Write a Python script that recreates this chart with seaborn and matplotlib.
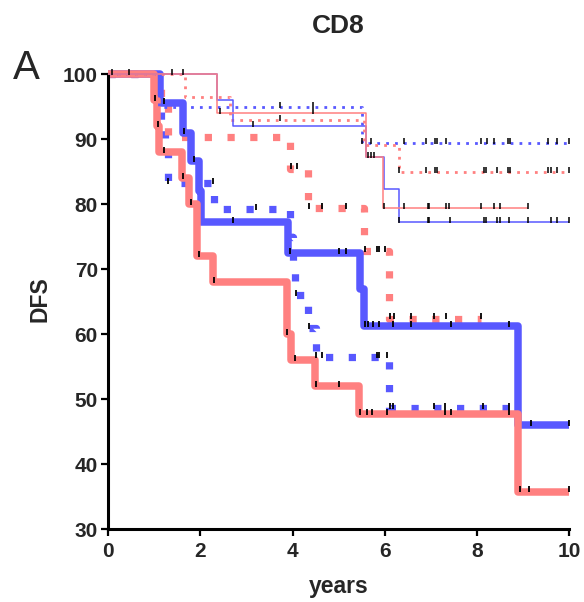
import numpy as np
import pandas as pd
import matplotlib
matplotlib.use("Agg")
import matplotlib.pyplot as plt
import seaborn as sns

# ---------------- data (years, DFS %) ----------------
thick_red_t = [0, 1.0, 1.05, 1.1, 1.6, 1.75, 1.93, 2.27, 3.87, 3.97, 4.48, 5.45, 8.9, 10.0]
thick_red_s = [100, 96, 92, 88, 84, 80, 72, 68, 60, 56, 52, 47.7, 35.8, 35.8]
thick_red_cens = [1.02, 1.07, 1.2, 1.62, 1.8, 1.96, 2.3, 3.88, 4.05, 4.5, 5.0,
                  5.47, 5.62, 5.73, 6.06, 7.3, 7.43, 8.7, 8.93, 9.13, 10.0]

thick_blue_t = [0, 1.12, 1.62, 1.8, 1.97, 2.02, 3.9, 5.47, 5.55, 8.9, 10.0]
thick_blue_s = [100, 95.6, 91, 86.6, 82, 77.2, 72.5, 67, 61.3, 46, 46]
thick_blue_cens = [1.2, 1.65, 1.85, 2.7, 3.95, 5.0, 5.16, 5.57, 5.64, 5.75,
                   5.88, 6.18, 6.57, 7.43, 8.7, 9.17, 10.0]

thick_blue_dot_t = [0, 1.05, 1.15, 1.22, 1.3, 2.3, 3.95, 4.0, 4.05, 4.33, 4.5, 6.09, 8.7]
thick_blue_dot_s = [100, 96, 92, 88, 83.3, 79.2, 75, 70.8, 66, 61, 56.5, 48.6, 48.6]
thick_blue_dot_cens = [1.3, 2.27, 3.2, 4.07, 4.35, 4.5, 4.64, 5.83, 5.88, 6.05,
                       6.11, 6.18, 7.07, 7.3, 8.13, 8.7]

thick_red_dot_t = [0, 1.15, 1.3, 3.95, 4.33, 5.55, 6.09, 8.1]
thick_red_dot_s = [100, 95.2, 90.4, 85.5, 79.4, 72.8, 62.4, 62.4]
thick_red_dot_cens = [3.96, 4.09, 4.35, 4.64, 5.16, 5.57, 5.83, 5.88, 6.0,
                      6.11, 6.2, 6.57, 7.07, 7.33, 8.1]

thin_blue_t = [0, 2.35, 2.7, 5.6, 5.98, 6.3, 10.0]
thin_blue_s = [100, 96, 92, 87.3, 82.3, 77.2, 77.2]
thin_blue_cens = [0.08, 0.45, 1.38, 1.62, 3.14, 5.63, 5.71, 6.3, 6.94, 6.96,
                  7.41, 8.15, 8.19, 8.43, 8.5, 8.69, 9.1, 9.6, 9.73, 10.0]

thin_red_t = [0, 2.35, 5.6, 5.97, 9.1]
thin_red_s = [100, 94, 87.3, 79.4, 79.4]
thin_red_cens = [2.42, 4.44, 5.76, 5.98, 6.42, 6.94, 6.96, 7.33, 7.39,
                 8.1, 8.37, 8.51, 9.1]

thin_blue_dot_t = [0, 1.1, 5.5, 10.0]
thin_blue_dot_s = [100, 95, 89.4, 89.4]
thin_blue_dot_cens = [3.72, 4.44, 5.5, 5.71, 6.42, 6.89, 7.09, 7.14, 7.33,
                      8.1, 8.21, 8.37, 8.68, 8.73, 9.54, 9.73, 10.0]

thin_red_dot_t = [0, 1.67, 2.64, 5.55, 6.3, 10.0]
thin_red_dot_s = [100, 96.5, 93.0, 89.1, 84.9, 84.9]
thin_red_dot_cens = [3.72, 6.31, 6.89, 7.09, 7.13, 8.15, 8.19, 8.43, 8.67,
                     8.71, 9.54, 9.6, 9.73, 10.0]

x_ticks = [0, 2, 4, 6, 8, 10]
y_ticks = [30, 40, 50, 60, 70, 80, 90, 100]
title = "CD8"
xlabel = "years"
ylabel = "DFS"
panel = "A"

BLUE = "#5858FF"
RED = "#FF8080"

# ---------------- style ----------------
sns.set_style("ticks")
plt.rcParams["font.family"] = ["Liberation Sans", "DejaVu Sans"]

fig = plt.figure(figsize=(5.84, 6.02), dpi=100)
ax = fig.add_axes([108.3 / 584, (602 - 529.3) / 602, 460.7 / 584, 455 / 602])

curves = [
    # (t, s, cens, color, lw, linestyle, tick lw, tick size)
    (thick_blue_dot_t, thick_blue_dot_s, thick_blue_dot_cens, BLUE, 5.2, (0, (1, 2.15)), 1.3, 24),
    (thick_red_dot_t, thick_red_dot_s, thick_red_dot_cens, RED, 5.2, (0, (1, 2.15)), 1.3, 24),
    (thick_blue_t, thick_blue_s, thick_blue_cens, BLUE, 5.4, "-", 1.3, 24),
    (thick_red_t, thick_red_s, thick_red_cens, RED, 5.4, "-", 1.3, 24),
    (thin_blue_dot_t, thin_blue_dot_s, thin_blue_dot_cens, BLUE, 2.0, (0, (1, 2.2)), 1.1, 20),
    (thin_red_dot_t, thin_red_dot_s, thin_red_dot_cens, RED, 2.0, (0, (1, 2.2)), 1.1, 20),
    (thin_blue_t, thin_blue_s, thin_blue_cens, BLUE, 1.1, "-", 1.1, 20),
    (thin_red_t, thin_red_s, thin_red_cens, RED, 1.1, "-", 1.1, 20),
]

for i, (t, s, cens, col, lw, ls, tlw, ts) in enumerate(curves):
    df = pd.DataFrame({"t": t, "s": s})
    sns.lineplot(data=df, x="t", y="s", ax=ax, color=col, linewidth=lw,
                 linestyle=ls, drawstyle="steps-post", estimator=None,
                 sort=False, clip_on=False, zorder=2 + i * 0.1)
    line = ax.lines[-1]
    line.set_dash_capstyle("butt")
    line.set_solid_capstyle("butt")
    tt = np.asarray(t)
    ss = np.asarray(s)
    idx = np.clip(np.searchsorted(tt, cens, side="right") - 1, 0, len(ss) - 1)
    cdf = pd.DataFrame({"t": cens, "s": ss[idx] + 0.35})
    sns.scatterplot(data=cdf, x="t", y="s", ax=ax, marker="|", color="black",
                    s=ts, linewidth=tlw, clip_on=False, zorder=5)

ax.set_xlim(0, 10)
ax.set_ylim(30, 100)
ax.set_xticks(x_ticks)
ax.set_yticks(y_ticks)
sns.despine(ax=ax)
for sp in ["left", "bottom"]:
    ax.spines[sp].set_linewidth(2.2)
    ax.spines[sp].set_color("black")
ax.tick_params(axis="both", direction="out", length=5, width=1.6, color="black",
               labelsize=15, pad=2.5)
ax.tick_params(axis="x", pad=4)
for lab in ax.get_xticklabels() + ax.get_yticklabels():
    lab.set_fontweight("bold")

ax.set_xlabel(xlabel, fontsize=16.5, fontweight="bold")
ax.set_ylabel(ylabel, fontsize=16.5, fontweight="bold")
ax.xaxis.set_label_coords(0.5, -0.1)
ax.yaxis.set_label_coords(-0.124, 0.505)
ax.set_title(title, fontsize=19, fontweight="bold", pad=30)

fig.text(13 / 584, 1 - 79 / 602, panel, fontsize=29, ha="left", va="baseline")

fig.savefig("out.png", dpi=100)
